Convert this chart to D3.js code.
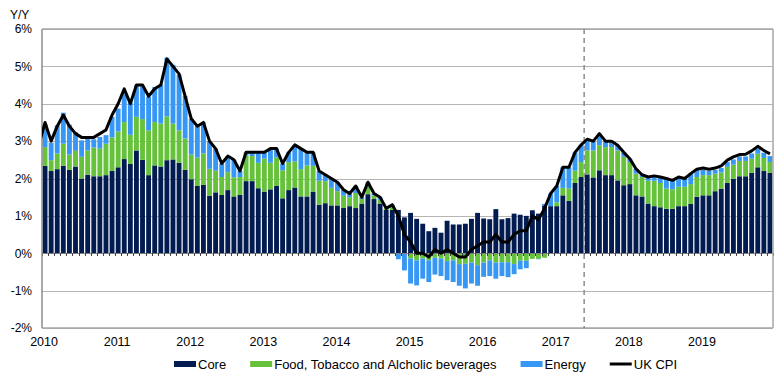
<!DOCTYPE html>
<html><head><meta charset="utf-8">
<script src="https://cdn.jsdelivr.net/npm/d3@7"></script>
<style>
body{margin:0;background:#fff;}
svg text{font-family:"Liberation Sans",Arial,sans-serif;fill:#000;}
</style>
</head><body>
<svg id="c" width="781" height="380"></svg>
<script>
// ---------------- DATA ----------------
const years = ["2010","2011","2012","2013","2014","2015","2016","2017","2018","2019"];
const seriesNames = ["Core","Food, Tobacco and Alcholic beverages","Energy"];
const lineName = "UK CPI";
const yTicks = [-2,-1,0,1,2,3,4,5,6];
const forecastStart = "2017-06";
// contributions, percentage points, Jan 2010 .. Dec 2019
const core = [
 2.34,2.20,2.25,2.34,2.23,2.32,2.00,2.10,2.06,2.06,2.09,2.20,
 2.30,2.52,2.39,2.75,2.50,2.09,2.35,2.32,2.49,2.51,2.42,2.23,
 1.98,1.80,1.83,1.54,1.63,1.56,1.69,1.52,1.56,1.93,1.93,1.74,
 1.65,1.71,1.80,1.47,1.69,1.76,1.52,1.52,1.65,1.30,1.34,1.28,
 1.28,1.21,1.26,1.21,1.33,1.58,1.45,1.33,1.16,1.16,1.16,0.96,
 1.08,0.92,0.79,0.59,0.68,0.55,0.87,0.77,0.77,0.79,0.92,1.08,
 0.93,0.91,1.18,0.91,0.94,1.06,1.03,1.00,1.15,1.06,1.28,1.26,
 1.26,1.55,1.40,1.88,2.04,2.11,2.03,2.22,2.09,2.09,1.95,1.82,
 1.85,1.55,1.52,1.33,1.26,1.23,1.19,1.19,1.26,1.26,1.32,1.51,
 1.55,1.55,1.66,1.73,1.88,1.99,2.06,2.06,2.15,2.30,2.20,2.15];
const food = [
 0.50,0.29,0.42,0.59,0.41,0.42,0.58,0.65,0.77,0.74,0.84,0.90,
 0.96,0.99,0.78,0.90,1.09,1.20,1.16,1.15,1.17,0.96,0.87,0.84,
 0.66,0.76,0.84,0.72,0.58,0.48,0.48,0.51,0.48,0.69,0.67,0.68,
 0.88,0.71,0.76,0.75,0.75,0.70,0.73,0.83,0.69,0.64,0.59,0.47,
 0.38,0.33,0.24,0.40,0.12,0.20,0.10,0.10,0.04,0.08,0.00,0.00,
 -0.14,-0.19,-0.14,-0.19,-0.12,-0.14,-0.21,-0.19,-0.29,-0.28,-0.25,-0.32,
 -0.25,-0.19,-0.25,-0.24,-0.24,-0.29,-0.20,-0.20,-0.15,-0.15,-0.12,0.00,
 0.10,0.20,0.33,0.33,0.40,0.64,0.72,0.67,0.75,0.75,0.80,0.76,
 0.59,0.58,0.52,0.61,0.68,0.65,0.54,0.52,0.52,0.52,0.53,0.53,
 0.54,0.54,0.47,0.43,0.43,0.38,0.41,0.41,0.38,0.36,0.35,0.29];
const energy = [
 0.61,0.47,0.75,0.83,0.80,0.50,0.44,0.38,0.22,0.31,0.23,0.55,
 0.61,0.80,0.86,0.84,0.88,0.90,0.94,1.04,1.57,1.57,1.49,1.14,
 0.96,0.84,0.83,0.74,0.59,0.36,0.43,0.47,0.16,0.08,0.10,0.28,
 0.17,0.38,0.24,0.18,0.26,0.44,0.55,0.35,0.36,0.26,0.17,0.25,
 0.24,0.16,0.10,0.19,0.05,0.12,0.05,0.07,0.00,0.06,-0.16,-0.46,
 -0.67,-0.67,-0.54,-0.58,-0.45,-0.47,-0.51,-0.58,-0.58,-0.66,-0.56,-0.55,
 -0.38,-0.42,-0.43,-0.37,-0.40,-0.27,-0.23,-0.20,0.00,-0.01,0.04,0.34,
 0.44,0.55,0.57,0.49,0.46,0.30,0.25,0.31,0.16,0.16,0.14,0.12,
 0.09,0.13,0.06,0.10,0.13,0.16,0.27,0.24,0.26,0.22,0.28,0.21,
 0.14,0.12,0.10,0.12,0.13,0.14,0.12,0.12,0.14,0.14,0.14,0.16];
const cpiDec2009 = 2.9;
const cpi = [
 3.5,3.0,3.4,3.7,3.4,3.2,3.1,3.1,3.1,3.2,3.3,3.7,
 4.0,4.4,4.0,4.5,4.5,4.2,4.4,4.5,5.2,5.0,4.8,4.2,
 3.6,3.4,3.5,3.0,2.8,2.4,2.6,2.5,2.2,2.7,2.7,2.7,
 2.7,2.8,2.8,2.4,2.7,2.9,2.8,2.7,2.7,2.2,2.1,2.0,
 1.9,1.7,1.6,1.8,1.5,1.9,1.6,1.5,1.2,1.3,1.0,0.5,
 0.3,0.0,0.0,-0.1,0.1,0.0,0.1,0.0,-0.1,-0.1,0.1,0.2,
 0.3,0.3,0.5,0.3,0.3,0.5,0.6,0.6,1.0,0.9,1.2,1.6,
 1.8,2.3,2.3,2.7,2.9,3.05,3.0,3.2,3.0,3.0,2.89,2.7,
 2.53,2.26,2.10,2.04,2.07,2.04,2.00,1.95,2.04,2.00,2.13,2.25,
 2.28,2.25,2.28,2.34,2.49,2.58,2.64,2.65,2.74,2.86,2.75,2.66];

// ---------------- CHART ----------------
const colors = {core:"#021c52", food:"#66c23a", energy:"#3797f4"};
const keys = ["core","food","energy"];
const months = years.flatMap(yr => d3.range(1,13).map(mo => yr + "-" + String(mo).padStart(2,"0")));
const table = months.map((m,i) => ({month:m, core:core[i], food:food[i], energy:energy[i]}));

const L = 42, R = 773, T = 29, B = 328;
const svg = d3.select("#c");
const x = d3.scaleBand().domain(months).range([L,R]).paddingInner(0.2).paddingOuter(0.1);
const xl = d3.scaleLinear().domain([0, months.length]).range([L,R]);
const y = d3.scaleLinear().domain([-2,6]).range([B,T]);

// gridlines + y labels
const ya = svg.append("g").attr("transform",`translate(${L},0)`)
  .call(d3.axisLeft(y).tickValues(yTicks).tickSize(-(R-L)).tickPadding(10).tickFormat(d => d + "%"));
ya.select(".domain").remove();
ya.selectAll("line").attr("stroke","#b5b5b5").attr("stroke-width",1)
  .attr("shape-rendering","crispEdges");
ya.selectAll("text").attr("font-size",12).style("fill","#000");

// bars
const stack = d3.stack().keys(keys).offset(d3.stackOffsetDiverging)(table);
svg.append("g").selectAll("g").data(stack).join("g")
  .attr("fill", s => colors[s.key])
  .selectAll("rect").data(s => s).join("rect")
  .attr("x", d => x(d.data.month))
  .attr("width", x.bandwidth())
  .attr("y", d => y(Math.max(d[0],d[1])))
  .attr("height", d => Math.abs(y(d[0]) - y(d[1])));

// zero axis with monthly ticks
const xa = svg.append("g").attr("transform",`translate(0,${y(0)})`)
  .call(d3.axisBottom(xl).tickValues(d3.range(0, months.length+1)).tickSize(3).tickFormat(""));
xa.select(".domain").attr("stroke","#7f7f7f").attr("shape-rendering","crispEdges");
xa.selectAll("line").attr("stroke","#404040").attr("shape-rendering","crispEdges");

// frame
svg.append("line").attr("x1",L).attr("x2",L).attr("y1",T).attr("y2",B)
  .attr("stroke","#8c8c8c").attr("stroke-width",1.5);
svg.append("line").attr("x1",R).attr("x2",R).attr("y1",T).attr("y2",B)
  .attr("stroke","#a6a6a6").attr("stroke-width",1.5);
svg.append("line").attr("x1",L).attr("x2",R).attr("y1",T).attr("y2",T)
  .attr("stroke","#a6a6a6").attr("stroke-width",1.5);
svg.append("line").attr("x1",L).attr("x2",R).attr("y1",B).attr("y2",B)
  .attr("stroke","#a6a6a6").attr("stroke-width",1.5);

// forecast dashed line
const fi = months.indexOf(forecastStart);
svg.append("line").attr("x1",xl(fi)).attr("x2",xl(fi)).attr("y1",T).attr("y2",B)
  .attr("stroke","#8c8c8c").attr("stroke-width",1.5).attr("stroke-dasharray","5,4");

// CPI line (clipped to plot area; starts from Dec 2009)
svg.append("clipPath").attr("id","clip").append("rect")
  .attr("x",L).attr("y",T-5).attr("width",R-L).attr("height",B-T+10);
const lineData = [{i:-1, v:cpiDec2009}].concat(cpi.map((v,i)=>({i, v})));
svg.append("path").datum(lineData).attr("clip-path","url(#clip)")
  .attr("fill","none").attr("stroke","#000").attr("stroke-width",3)
  .attr("stroke-linejoin","round")
  .attr("d", d3.line().x(d => xl(d.i + 0.5)).y(d => y(d.v)));

// year labels
svg.append("g").selectAll("text").data(years).join("text")
  .attr("x", (d,k) => x(months[k*12]) + x.bandwidth()/2 - 1)
  .attr("y", 346).attr("text-anchor","middle").attr("font-size",12.5).text(d => d);

// Y/Y label
svg.append("text").attr("x",10).attr("y",19).attr("font-size",12).text("Y/Y");

// legend
const lg = svg.append("g").attr("transform","translate(174,364)");
let lx = 0;
const items = [
  {name:seriesNames[0], type:"rect", color:colors.core},
  {name:seriesNames[1], type:"rect", color:colors.food},
  {name:seriesNames[2], type:"rect", color:colors.energy},
  {name:lineName, type:"line", color:"#000"}];
items.forEach(it => {
  const g = lg.append("g").attr("transform",`translate(${lx},0)`);
  if (it.type === "rect") g.append("rect").attr("x",0).attr("y",-3).attr("width",22).attr("height",6).attr("fill",it.color);
  else g.append("line").attr("x1",0).attr("x2",22).attr("y1",0).attr("y2",0).attr("stroke",it.color).attr("stroke-width",3);
  const t = g.append("text").attr("x",24).attr("y",4.5).attr("font-size",13).text(it.name);
  lx += 24 + t.node().getComputedTextLength() + 24;
});
</script>
</body></html>
